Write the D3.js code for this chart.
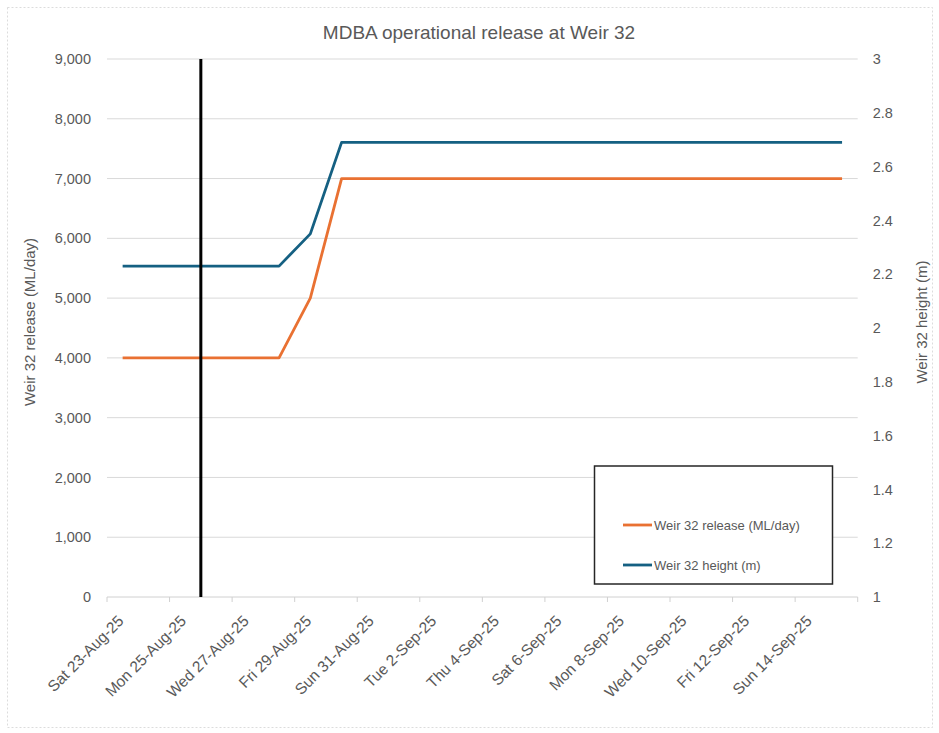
<!DOCTYPE html>
<html>
<head>
<meta charset="utf-8">
<script src="https://cdn.jsdelivr.net/npm/d3@7"></script>
<style>
  html, body { margin: 0; padding: 0; background: #ffffff; }
  svg { display: block; font-family: "Liberation Sans", Arial, sans-serif; }
</style>
</head>
<body>
<svg id="chart" width="939" height="733"></svg>
<script>
// ---- Data ----
const chartTitle = "MDBA operational release at Weir 32";
const dates = [
  "Sat 23-Aug-25", "Sun 24-Aug-25", "Mon 25-Aug-25", "Tue 26-Aug-25",
  "Wed 27-Aug-25", "Thu 28-Aug-25", "Fri 29-Aug-25", "Sat 30-Aug-25",
  "Sun 31-Aug-25", "Mon 1-Sep-25", "Tue 2-Sep-25", "Wed 3-Sep-25",
  "Thu 4-Sep-25", "Fri 5-Sep-25", "Sat 6-Sep-25", "Sun 7-Sep-25",
  "Mon 8-Sep-25", "Tue 9-Sep-25", "Wed 10-Sep-25", "Thu 11-Sep-25",
  "Fri 12-Sep-25", "Sat 13-Sep-25", "Sun 14-Sep-25", "Mon 15-Sep-25"
];
const releaseValues = [
  4000, 4000, 4000, 4000, 4000, 4000, 5000, 7000,
  7000, 7000, 7000, 7000, 7000, 7000, 7000, 7000,
  7000, 7000, 7000, 7000, 7000, 7000, 7000, 7000
];
const heightValues = [
  2.23, 2.23, 2.23, 2.23, 2.23, 2.23, 2.35, 2.69,
  2.69, 2.69, 2.69, 2.69, 2.69, 2.69, 2.69, 2.69,
  2.69, 2.69, 2.69, 2.69, 2.69, 2.69, 2.69, 2.69
];
const leftTicks = [0, 1000, 2000, 3000, 4000, 5000, 6000, 7000, 8000, 9000];
const rightTicks = [1, 1.2, 1.4, 1.6, 1.8, 2, 2.2, 2.4, 2.6, 2.8, 3];
const markerDate = "Tue 26-Aug-25";
const seriesNames = ["Weir 32 release (ML/day)", "Weir 32 height (m)"];
const leftAxisTitle = "Weir 32 release (ML/day)";
const rightAxisTitle = "Weir 32 height (m)";

// ---- Layout ----
const svg = d3.select("#chart");
const plot = { left: 107, right: 857.7, top: 59, bottom: 597 };
const textColor = "#595959";
const gridColor = "#d9d9d9";
const orange = "#E97132";
const blue = "#156082";

const x = d3.scaleBand().domain(dates).range([plot.left, plot.right]).padding(0);
const yL = d3.scaleLinear().domain([0, 9000]).range([plot.bottom, plot.top]);
const yR = d3.scaleLinear().domain([1, 3]).range([plot.bottom, plot.top]);
const bw = x.bandwidth();

// Outer chart border
svg.append("rect")
  .attr("x", 7.5).attr("y", 7.5).attr("width", 925).attr("height", 720)
  .attr("fill", "none").attr("stroke", "#dcdcdc").attr("stroke-width", 1)
  .attr("stroke-dasharray", "2,2");

// Title
svg.append("text")
  .attr("x", 479).attr("y", 39)
  .attr("text-anchor", "middle")
  .attr("font-size", 19).attr("fill", textColor)
  .text(chartTitle);

// Gridlines
svg.append("g").selectAll("line")
  .data(leftTicks.filter(d => d !== 0))
  .join("line")
  .attr("x1", plot.left).attr("x2", plot.right)
  .attr("y1", d => yL(d)).attr("y2", d => yL(d))
  .attr("stroke", gridColor).attr("stroke-width", 1);

// Left axis labels
const leftAxis = d3.axisLeft(yL).tickValues(leftTicks).tickFormat(d3.format(",")).tickSize(0).tickPadding(16);
const gL = svg.append("g").attr("transform", `translate(${plot.left},0)`).call(leftAxis);
gL.select(".domain").remove();
gL.selectAll("text").attr("font-size", 14.5).attr("fill", textColor)
  .attr("font-family", "Liberation Sans, Arial, sans-serif");

// Right axis labels
const rightAxis = d3.axisRight(yR).tickValues(rightTicks)
  .tickFormat(d => String(+d.toFixed(1))).tickSize(0).tickPadding(15);
const gR = svg.append("g").attr("transform", `translate(${plot.right},0)`).call(rightAxis);
gR.select(".domain").remove();
gR.selectAll("text").attr("font-size", 14.5).attr("fill", textColor)
  .attr("font-family", "Liberation Sans, Arial, sans-serif");

// X axis line and ticks (tick marks between categories every 2 days)
svg.append("line")
  .attr("x1", plot.left).attr("x2", plot.right)
  .attr("y1", plot.bottom).attr("y2", plot.bottom)
  .attr("stroke", "#d0d0d0").attr("stroke-width", 1);
const tickBoundaries = dates.filter((d, i) => i % 2 === 0).map(d => x(d)).concat([plot.right]);
svg.append("g").selectAll("line")
  .data(tickBoundaries)
  .join("line")
  .attr("x1", d => d).attr("x2", d => d)
  .attr("y1", plot.bottom).attr("y2", plot.bottom + 5)
  .attr("stroke", "#d0d0d0").attr("stroke-width", 1);

// X labels every 2 days, rotated -45
svg.append("g").selectAll("text")
  .data(dates.filter((d, i) => i % 2 === 0))
  .join("text")
  .attr("transform", d => `translate(${x(d) + bw / 2 + 2},622) rotate(-45)`)
  .attr("text-anchor", "end")
  .attr("font-size", 15.5).attr("fill", textColor)
  .text(d => d);

// Axis titles
svg.append("text")
  .attr("transform", `translate(35,322) rotate(-90)`)
  .attr("text-anchor", "middle")
  .attr("font-size", 15).attr("fill", textColor)
  .text(leftAxisTitle);
svg.append("text")
  .attr("transform", `translate(927,322) rotate(-90)`)
  .attr("text-anchor", "middle")
  .attr("font-size", 15).attr("fill", textColor)
  .text(rightAxisTitle);

// Series lines
const releaseData = dates.map((d, i) => ({ d, v: releaseValues[i] }));
const heightData = dates.map((d, i) => ({ d, v: heightValues[i] }));
const lineL = d3.line().x(p => x(p.d) + bw / 2).y(p => yL(p.v));
const lineR = d3.line().x(p => x(p.d) + bw / 2).y(p => yR(p.v));

svg.append("path").datum(releaseData)
  .attr("d", lineL).attr("fill", "none")
  .attr("stroke", orange).attr("stroke-width", 2.8)
  .attr("stroke-linejoin", "round");
svg.append("path").datum(heightData)
  .attr("d", lineR).attr("fill", "none")
  .attr("stroke", blue).attr("stroke-width", 2.8)
  .attr("stroke-linejoin", "round");

// Vertical marker line
svg.append("line")
  .attr("x1", x(markerDate)).attr("x2", x(markerDate))
  .attr("y1", yL(9000)).attr("y2", yL(0))
  .attr("stroke", "#000000").attr("stroke-width", 3);

// Legend
const legend = svg.append("g");
legend.append("rect")
  .attr("x", 594.5).attr("y", 466).attr("width", 238).attr("height", 118)
  .attr("fill", "#ffffff").attr("stroke", "#262626").attr("stroke-width", 1.5);
const legendColors = [orange, blue];
const legendY = [525, 565];
seriesNames.forEach((name, i) => {
  legend.append("line")
    .attr("x1", 623).attr("x2", 652)
    .attr("y1", legendY[i]).attr("y2", legendY[i])
    .attr("stroke", legendColors[i]).attr("stroke-width", 2.8);
  legend.append("text")
    .attr("x", 654).attr("y", legendY[i])
    .attr("dy", "0.35em")
    .attr("font-size", 13).attr("fill", textColor)
    .text(name);
});
</script>
</body>
</html>
